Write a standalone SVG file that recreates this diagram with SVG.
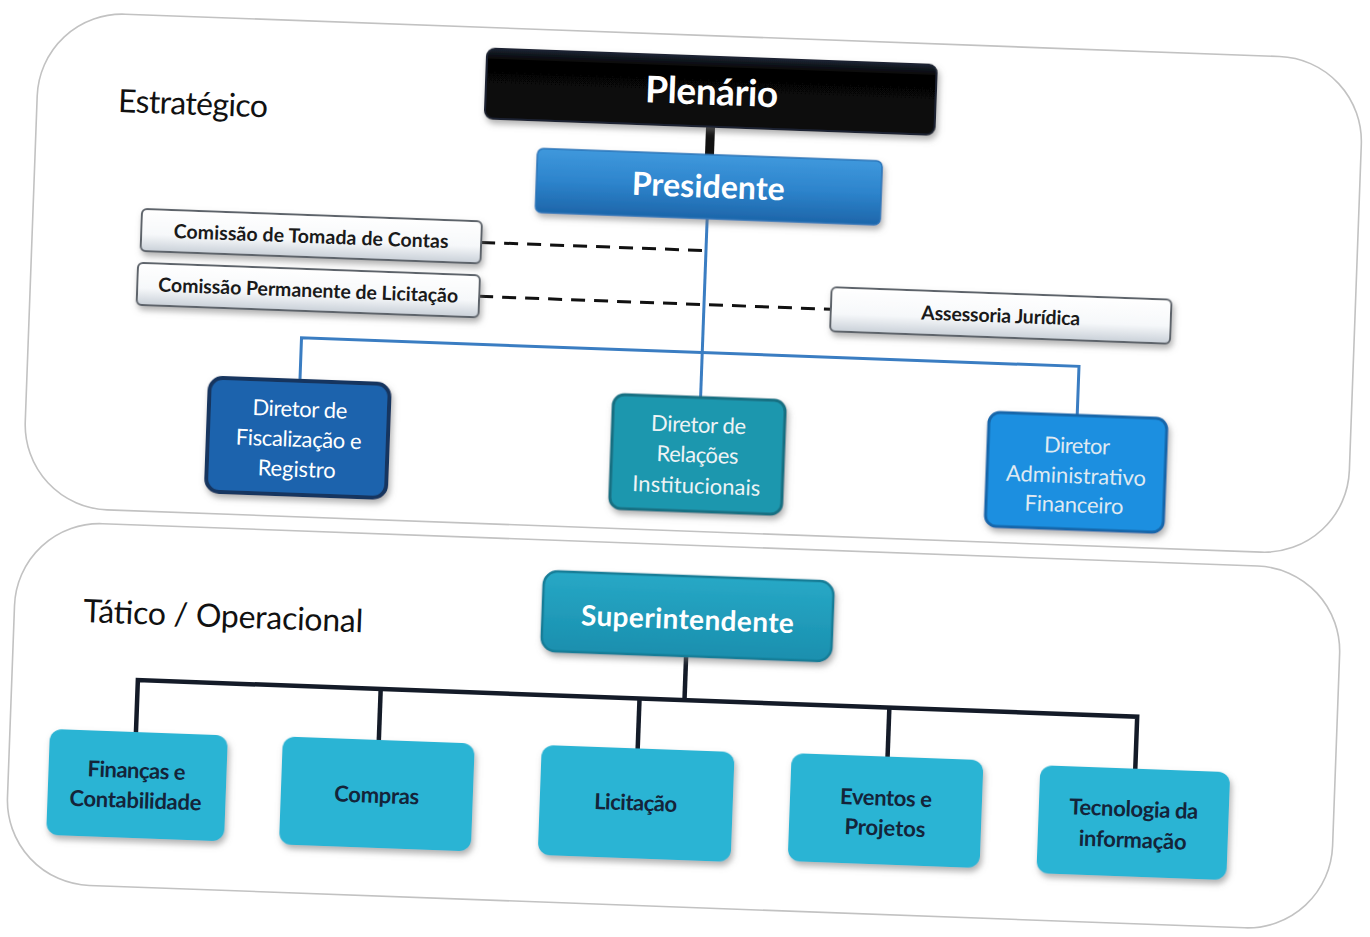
<svg xmlns="http://www.w3.org/2000/svg" width="1370" height="937" viewBox="0 0 1370 937">
<defs>
<filter id="sh" x="-10%" y="-10%" width="130%" height="140%">
<feDropShadow dx="2" dy="4" stdDeviation="3" flood-color="#707070" flood-opacity="0.55"/>
</filter>
<linearGradient id="gPres" x1="0" y1="0" x2="0" y2="1">
<stop offset="0" stop-color="#3f98dc"/><stop offset="0.5" stop-color="#2d84cc"/><stop offset="1" stop-color="#1d66aa"/>
</linearGradient>
<linearGradient id="gPlen" x1="0" y1="0" x2="0" y2="1">
<stop offset="0" stop-color="#1a2433"/><stop offset="0.15" stop-color="#050505"/><stop offset="1" stop-color="#0a0a0a"/>
</linearGradient>
<linearGradient id="gCom" x1="0" y1="0" x2="0" y2="1">
<stop offset="0" stop-color="#ffffff"/><stop offset="0.6" stop-color="#f6f8fa"/><stop offset="1" stop-color="#c9d0d8"/>
</linearGradient>
<linearGradient id="gSup" x1="0" y1="0" x2="0" y2="1">
<stop offset="0" stop-color="#27a8c6"/><stop offset="1" stop-color="#1a8fae"/>
</linearGradient>
</defs>
<style>
.panel{fill:#ffffff;stroke:#c2c2c2;stroke-width:1.6}
.title{font-family:Lato,"Liberation Sans",sans-serif;font-size:32px;fill:#111111}
.wb{font-family:Lato,"Liberation Sans",sans-serif;font-weight:bold;fill:#ffffff;text-anchor:middle}
.com{fill:url(#gCom);stroke:#5d636b;stroke-width:2}
.ct{font-family:Lato,"Liberation Sans",sans-serif;font-weight:bold;font-size:19.5px;fill:#1a1a1a;text-anchor:middle}
.dt{font-family:Lato,"Liberation Sans",sans-serif;font-size:22px;text-anchor:middle}
.bot{fill:#2ab4d4}
.bt{font-family:Lato,"Liberation Sans",sans-serif;font-weight:bold;font-size:22px;fill:#14243a;text-anchor:middle}
.blue{fill:none;stroke:#3a7dc2;stroke-width:3}
.dark{fill:none;stroke:#141b28;stroke-width:4.5}
.dash{fill:none;stroke:#111111;stroke-width:3;stroke-dasharray:14 9}
</style>
<rect x="0" y="0" width="1370" height="937" fill="#ffffff"/>
<g transform="rotate(2.1 685 468)">
<g id="panel-estrategico">
<rect class="panel" x="24" y="35" width="1325" height="496" rx="85"/>
<text class="title" x="105" y="133" textLength="150">Estratégico</text>
</g>
<g id="panel-tatico">
<rect class="panel" x="20" y="545" width="1326" height="362" rx="85"/>
<text class="title" x="89" y="644" font-size="34" textLength="280">Tático / Operacional</text>
</g>
<g id="connectors">
<line x1="698" y1="124" x2="698" y2="156" stroke="#111111" stroke-width="9"/>
<line class="blue" x1="698" y1="218" x2="698" y2="398"/>
<path class="blue" d="M297 396 V352 H1075 V402"/>
<path class="dash" d="M473 250 H698"/>
<path class="dash" d="M473 304 H825"/>
<line class="dark" x1="693" y1="655" x2="693" y2="700" stroke-width="3.5"/>
<path class="dark" d="M146 753 V700 H1146 V753"/>
<path class="dark" d="M389 700 V752"/>
<path class="dark" d="M648 700 V752"/>
<path class="dark" d="M898 700 V752"/>
</g>
<g id="plenario">
<rect x="472" y="56" width="450" height="70" rx="8" fill="url(#gPlen)" stroke="#1c2330" stroke-width="2" filter="url(#sh)"/>
<text class="wb" x="698" y="104" font-size="37" textLength="133">Plenário</text>
</g>
<g id="presidente">
<rect x="526" y="154" width="345" height="64" rx="6" fill="url(#gPres)" stroke="#2a74b8" stroke-width="1.5" filter="url(#sh)"/>
<text class="wb" x="698" y="197" font-size="32" textLength="153">Presidente</text>
</g>
<g id="comissao-tomada">
<rect class="com" x="133" y="229" width="340" height="42" rx="5" filter="url(#sh)"/>
<text class="ct" x="303" y="257" textLength="275">Comissão de Tomada de Contas</text>
</g>
<g id="comissao-licitacao">
<rect class="com" x="131" y="283" width="342" height="42" rx="5" filter="url(#sh)"/>
<text class="ct" x="302" y="311" textLength="300">Comissão Permanente de Licitação</text>
</g>
<g id="assessoria">
<rect class="com" x="825" y="282" width="340" height="44" rx="5" filter="url(#sh)"/>
<text class="ct" x="995" y="311" textLength="159">Assessoria Jurídica</text>
</g>
<g id="dir-fiscalizacao">
<rect x="207" y="395" width="180" height="114" rx="13" fill="#1f63ad" stroke="#15365f" stroke-width="4" filter="url(#sh)"/>
<text class="dt" x="298" y="431" fill="#ffffff" textLength="95">Diretor de</text>
<text class="dt" x="298" y="461" fill="#ffffff" textLength="126">Fiscalização e</text>
<text class="dt" x="297" y="491" fill="#ffffff" textLength="78">Registro</text>
</g>
<g id="dir-relacoes">
<rect x="611" y="397" width="172" height="114" rx="11" fill="#1f97ae" stroke="#186f82" stroke-width="3" filter="url(#sh)"/>
<text class="dt" x="697" y="432" fill="#eef3f5" textLength="95">Diretor de</text>
<text class="dt" x="697" y="462" fill="#eef3f5" textLength="82">Relações</text>
<text class="dt" x="697" y="493" fill="#eef3f5" textLength="128">Institucionais</text>
</g>
<g id="dir-administrativo">
<rect x="987" y="401" width="178" height="114" rx="11" fill="#1b8fe0" stroke="#1466aa" stroke-width="3" filter="url(#sh)"/>
<text class="dt" x="1076" y="439" fill="#dfe9f2" textLength="66">Diretor</text>
<text class="dt" x="1076" y="469" fill="#dfe9f2" textLength="140">Administrativo</text>
<text class="dt" x="1075" y="498" fill="#dfe9f2" textLength="99">Financeiro</text>
</g>
<g id="superintendente">
<rect x="548" y="576" width="290" height="80" rx="14" fill="url(#gSup)" stroke="#177d97" stroke-width="2.5" filter="url(#sh)"/>
<text class="wb" x="693" y="629" font-size="28" textLength="213">Superintendente</text>
</g>
<g id="financas">
<rect class="bot" x="60" y="752" width="178" height="106" rx="12" filter="url(#sh)"/>
<text class="bt" x="148" y="798" textLength="98">Finanças e</text>
<text class="bt" x="148" y="828" textLength="132">Contabilidade</text>
</g>
<g id="compras">
<rect class="bot" x="293" y="751" width="192" height="108" rx="12" filter="url(#sh)"/>
<text class="bt" x="389" y="814" textLength="85">Compras</text>
</g>
<g id="licitacao">
<rect class="bot" x="552" y="750" width="193" height="110" rx="12" filter="url(#sh)"/>
<text class="bt" x="648" y="812" textLength="83">Licitação</text>
</g>
<g id="eventos">
<rect class="bot" x="802" y="749" width="192" height="108" rx="12" filter="url(#sh)"/>
<text class="bt" x="898" y="798" textLength="92">Eventos e</text>
<text class="bt" x="898" y="828" textLength="81">Projetos</text>
</g>
<g id="tecnologia">
<rect class="bot" x="1051" y="752" width="190" height="108" rx="12" filter="url(#sh)"/>
<text class="bt" x="1146" y="800" textLength="129">Tecnologia da</text>
<text class="bt" x="1146" y="831" textLength="108">informação</text>
</g>
</g>
</svg>
